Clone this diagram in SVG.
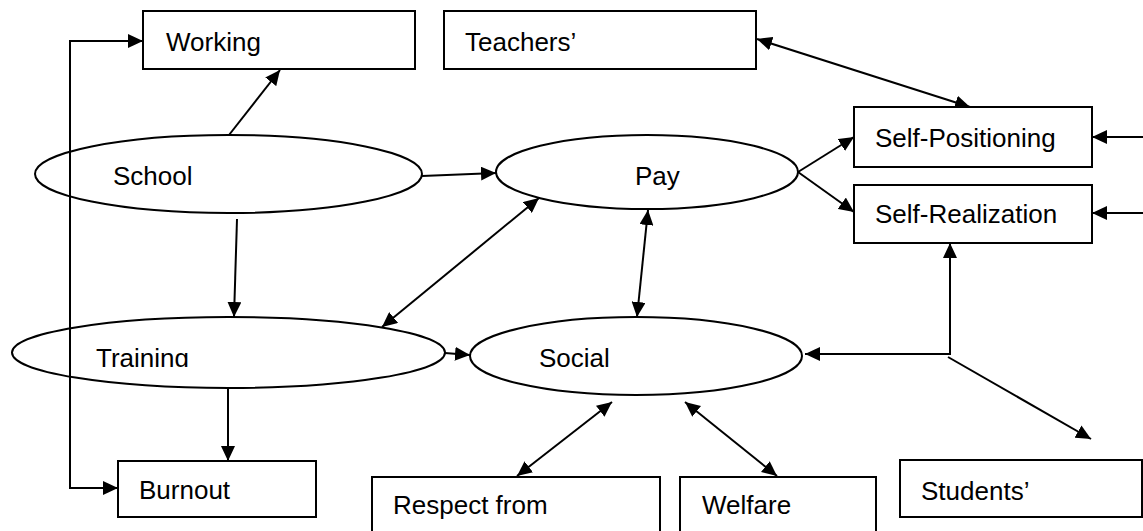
<svg xmlns="http://www.w3.org/2000/svg" width="1143" height="531" viewBox="0 0 1143 531">
<style>
.box{fill:#fff;stroke:#000;stroke-width:2}
.ell{fill:none;stroke:#000;stroke-width:2}
.lbl{font-family:"Liberation Sans",Arial,sans-serif;font-size:26px;fill:#000}
.c{fill:none;stroke:#000;stroke-width:2;marker-end:url(#ah)}
.d{fill:none;stroke:#000;stroke-width:2;marker-end:url(#ah);marker-start:url(#ah)}
.p{fill:none;stroke:#000;stroke-width:2}
</style>
<defs>
<marker id="ah" markerUnits="userSpaceOnUse" markerWidth="16" markerHeight="14" refX="15" refY="7" orient="auto-start-reverse">
<path d="M0,0 L15,7 L0,14 z" fill="#000"/>
</marker>
<clipPath id="trclip"><rect x="0" y="300" width="460" height="67"/></clipPath>
</defs>
<rect width="1143" height="531" fill="#fff"/>
<g id="connectors">
<polyline class="p" points="143,41 70,41 70,488 104,488"/>
<line class="c" x1="70" y1="41" x2="143" y2="41"/>
<line class="c" x1="104" y1="488" x2="118" y2="488"/>
<line class="c" x1="229" y1="135" x2="280" y2="70"/>
<line class="c" x1="422" y1="176" x2="496" y2="173"/>
<line class="c" x1="237" y1="219" x2="234" y2="317"/>
<line class="c" x1="228" y1="389" x2="228" y2="461"/>
<line class="c" x1="445" y1="353" x2="470" y2="355"/>
<line class="d" x1="539" y1="198" x2="382" y2="327"/>
<line class="d" x1="648" y1="210" x2="637" y2="317"/>
<line class="d" x1="612" y1="402" x2="517" y2="476"/>
<line class="d" x1="685" y1="402" x2="777" y2="476"/>
<line class="d" x1="757" y1="39" x2="970" y2="107"/>
<line class="c" x1="798" y1="172" x2="854" y2="137"/>
<line class="c" x1="798" y1="172" x2="854" y2="212"/>
<line class="c" x1="1143" y1="137" x2="1092" y2="137"/>
<line class="c" x1="1143" y1="213" x2="1092" y2="213"/>
<polyline class="p" points="950,257 950,354 819,354"/>
<line class="c" x1="950" y1="300" x2="950" y2="243"/>
<line class="c" x1="830" y1="354" x2="805" y2="354"/>
<line class="c" x1="948" y1="357" x2="1091" y2="439"/>
</g>
<g id="working"><rect class="box" x="143" y="11" width="272" height="58"/><text class="lbl" x="166" y="51">Working</text></g>
<g id="teachers"><rect class="box" x="444" y="11" width="312" height="58"/><text class="lbl" x="465" y="51">Teachers’</text></g>
<g id="school"><ellipse class="ell" cx="228.5" cy="174" rx="193.5" ry="39"/><text class="lbl" x="113" y="185">School</text></g>
<g id="pay"><ellipse class="ell" cx="647" cy="172" rx="151" ry="37"/><text class="lbl" x="635" y="185">Pay</text></g>
<g id="self-positioning"><rect class="box" x="854" y="107" width="238" height="60"/><text class="lbl" x="875" y="147">Self-Positioning</text></g>
<g id="self-realization"><rect class="box" x="854" y="185" width="238" height="58"/><text class="lbl" x="875" y="223">Self-Realization</text></g>
<g id="training"><ellipse class="ell" cx="228.5" cy="352.5" rx="216.5" ry="35.5"/><text class="lbl" x="96" y="367" clip-path="url(#trclip)">Training</text></g>
<g id="social"><ellipse class="ell" cx="636" cy="356" rx="166" ry="39"/><text class="lbl" x="539" y="367">Social</text></g>
<g id="burnout"><rect class="box" x="118" y="461" width="198" height="56"/><text class="lbl" x="139" y="499">Burnout</text></g>
<g id="respect"><rect class="box" x="372" y="477" width="288" height="70"/><text class="lbl" x="393" y="514">Respect from</text></g>
<g id="welfare"><rect class="box" x="680" y="477" width="196" height="70"/><text class="lbl" x="702" y="514">Welfare</text></g>
<g id="students"><rect class="box" x="900" y="460" width="242" height="57"/><text class="lbl" x="921" y="500">Students’</text></g>
</svg>
